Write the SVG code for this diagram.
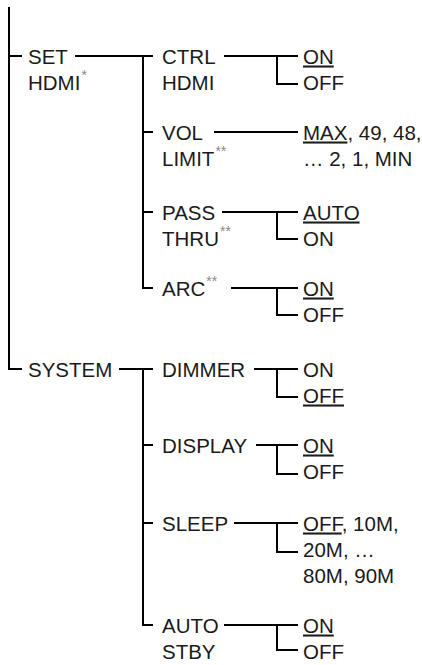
<svg xmlns="http://www.w3.org/2000/svg" width="422" height="665" viewBox="0 0 422 665">
<style>
text{font-family:"Liberation Sans",Arial,Helvetica,sans-serif;font-size:20.5px;fill:#1a1a1a}
.ast{font-size:14px;fill:#8a8a8a}
.u{text-decoration:underline}
.c{stroke:#000;stroke-width:2;fill:none;stroke-linecap:square}
</style>
<rect width="422" height="665" fill="#fff"/>
<g id="connectors" class="c">
<path d="M9 8V369H21"/>
<path d="M9 56H21"/>
<path d="M76 56H152M143 56V288H152M143 132H152M143 212H152"/>
<path d="M225 56H297M277 56V84H297"/>
<path d="M215 132H297"/>
<path d="M223 212H297M277 212V239H297"/>
<path d="M232 288H297M277 288V315H297"/>
<path d="M120 369H152M143 369V625H152M143 445H152M143 523H152"/>
<path d="M255 369H297M277 369V397H297"/>
<path d="M257 445H297M277 445V474H297"/>
<path d="M235 523H297M277 523V552H297"/>
<path d="M225 625H297M277 625V650H297"/>
</g>
<g id="set-hdmi"><text x="28" y="63.5">SET</text><text x="28" y="89.5">HDMI<tspan class="ast" dx="1" dy="-10">*</tspan></text></g>
<g id="ctrl-hdmi"><text x="162" y="63.5">CTRL</text><text x="162" y="89.5">HDMI</text></g>
<g id="ctrl-opts"><text x="303" y="63.5"><tspan class="u">ON</tspan></text><text x="303" y="89.5">OFF</text></g>
<g id="vol-limit"><text x="162" y="139.5">VOL</text><text x="162" y="165.5">LIMIT<tspan class="ast" dx="1" dy="-10">**</tspan></text></g>
<g id="vol-opts"><text x="303" y="139.5"><tspan class="u">MAX</tspan>, 49, 48,</text><text x="303" y="165.5">… 2, 1, MIN</text></g>
<g id="pass-thru"><text x="162" y="219.5">PASS</text><text x="162" y="245.5">THRU<tspan class="ast" dx="1" dy="-10">**</tspan></text></g>
<g id="pass-opts"><text x="303" y="219.5"><tspan class="u">AUTO</tspan></text><text x="303" y="245.5">ON</text></g>
<g id="arc"><text x="162" y="295.5">ARC<tspan class="ast" dx="1" dy="-10">**</tspan></text></g>
<g id="arc-opts"><text x="303" y="295.5"><tspan class="u">ON</tspan></text><text x="303" y="321.5">OFF</text></g>
<g id="system"><text x="28" y="376.5">SYSTEM</text></g>
<g id="dimmer"><text x="162" y="376.5">DIMMER</text></g>
<g id="dimmer-opts"><text x="303" y="376.5">ON</text><text x="303" y="402.5"><tspan class="u">OFF</tspan></text></g>
<g id="display"><text x="162" y="452.5">DISPLAY</text></g>
<g id="display-opts"><text x="303" y="452.5"><tspan class="u">ON</tspan></text><text x="303" y="478.5">OFF</text></g>
<g id="sleep"><text x="162" y="530.5">SLEEP</text></g>
<g id="sleep-opts"><text x="303" y="530.5"><tspan class="u">OFF</tspan>, 10M,</text><text x="303" y="556.5">20M, …</text><text x="303" y="582.5">80M, 90M</text></g>
<g id="auto-stby"><text x="162" y="632.5">AUTO</text><text x="162" y="658.5">STBY</text></g>
<g id="auto-opts"><text x="303" y="632.5"><tspan class="u">ON</tspan></text><text x="303" y="658.5">OFF</text></g>
</svg>
